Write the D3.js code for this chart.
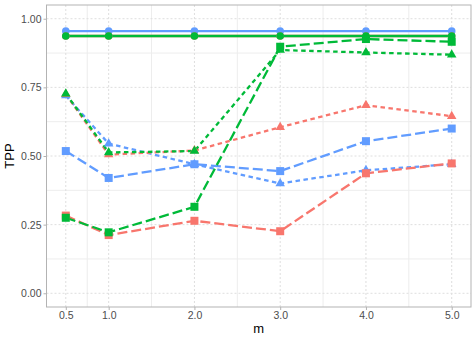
<!DOCTYPE html>
<html>
<head>
<meta charset="utf-8">
<script src="https://cdn.jsdelivr.net/npm/d3@7"></script>
<style>
  body { margin: 0; background: #fff; }
  text { font-family: "Liberation Sans", Arial, sans-serif; }
</style>
</head>
<body>
<script>
// values
var mVals = [0.5, 1.0, 2.0, 3.0, 4.0, 5.0];
var xTicks = [0.5, 1.0, 2.0, 3.0, 4.0, 5.0];
var yTicks = [0, 0.25, 0.5, 0.75, 1.0];

var solidBlue  = [0.955, 0.955, 0.955, 0.955, 0.955, 0.955];
var solidRed   = [0.937, 0.937, 0.937, 0.937, 0.937, 0.937];
var solidGreen = [0.937, 0.937, 0.937, 0.937, 0.937, 0.937];

var dottedBlue  = [0.720, 0.545, 0.470, 0.400, 0.448, 0.470];
var dottedRed   = [0.725, 0.505, 0.520, 0.605, 0.685, 0.645];
var dottedGreen = [0.727, 0.513, 0.518, 0.886, 0.877, 0.869];

var dashedBlue  = [0.518, 0.420, 0.470, 0.445, 0.554, 0.600];
var dashedRed   = [0.283, 0.212, 0.264, 0.226, 0.437, 0.473];
var dashedGreen = [0.275, 0.222, 0.315, 0.898, 0.926, 0.916];

var red = '#F8766D', green = '#00BA38', blue = '#619CFF';

// drawing order: blue, red, green (green ends up on top)
var series = [
  {vals: solidBlue,   col: blue,  type: 'solid'},
  {vals: dottedBlue,  col: blue,  type: 'dotted'},
  {vals: dashedBlue,  col: blue,  type: 'dashed'},
  {vals: solidRed,    col: red,   type: 'solid'},
  {vals: dottedRed,   col: red,   type: 'dotted'},
  {vals: dashedRed,   col: red,   type: 'dashed'},
  {vals: solidGreen,  col: green, type: 'solid'},
  {vals: dottedGreen, col: green, type: 'dotted'},
  {vals: dashedGreen, col: green, type: 'dashed'}
];

var W = 476, H = 340;
var pl = 46.5, pr = 471, pt = 5, pb = 307;

var svg = d3.select('body').append('svg')
  .attr('width', W)
  .attr('height', H);

// ggplot style 5% expansion
var x = d3.scaleLinear().domain([0.5 - 0.225, 5.0 + 0.225]).range([pl, pr]);
var y = d3.scaleLinear().domain([-0.05, 1.05]).range([pb, pt]);

// minor grid (solid)
var xMinor = [0.75, 1.5, 2.5, 3.5, 4.5];
var yMinor = [0.125, 0.375, 0.625, 0.875];
var grid = svg.append('g');
grid.selectAll('.xm').data(xMinor).enter().append('line')
  .attr('x1', function(d){ return x(d); }).attr('x2', function(d){ return x(d); })
  .attr('y1', pt).attr('y2', pb)
  .attr('stroke', '#ededed').attr('stroke-width', 1);
grid.selectAll('.ym').data(yMinor).enter().append('line')
  .attr('y1', function(d){ return y(d); }).attr('y2', function(d){ return y(d); })
  .attr('x1', pl).attr('x2', pr)
  .attr('stroke', '#ededed').attr('stroke-width', 1);
// major grid (dashed)
grid.selectAll('.xM').data(xTicks).enter().append('line')
  .attr('x1', function(d){ return x(d); }).attr('x2', function(d){ return x(d); })
  .attr('y1', pt).attr('y2', pb)
  .attr('stroke', '#dedede').attr('stroke-width', 1).attr('stroke-dasharray', '2,2');
grid.selectAll('.yM').data(yTicks).enter().append('line')
  .attr('y1', function(d){ return y(d); }).attr('y2', function(d){ return y(d); })
  .attr('x1', pl).attr('x2', pr)
  .attr('stroke', '#dedede').attr('stroke-width', 1).attr('stroke-dasharray', '2,2');

// axes
var xAxis = svg.append('g').attr('transform', 'translate(0,' + pb + ')')
  .call(d3.axisBottom(x).tickValues(xTicks).tickFormat(d3.format('.1f')).tickSize(3).tickPadding(2));
var yAxis = svg.append('g').attr('transform', 'translate(' + pl + ',0)')
  .call(d3.axisLeft(y).tickValues(yTicks).tickFormat(d3.format('.2f')).tickSize(3).tickPadding(2));
[xAxis, yAxis].forEach(function(a){
  a.select('.domain').remove();
  a.selectAll('line').attr('stroke', '#b3b3b3');
  a.selectAll('text').attr('fill', '#4d4d4d').style('font-size', '10.5px')
    .style('font-family', '"Liberation Sans", Arial, sans-serif');
});

// panel border
svg.append('rect')
  .attr('x', pl).attr('y', pt).attr('width', pr - pl).attr('height', pb - pt)
  .attr('fill', 'none').attr('stroke', '#b3b3b3').attr('stroke-width', 1);

var dashes = {solid: null, dotted: '4.5,3.5', dashed: '10,4'};
var line = d3.line()
  .x(function(d, i){ return x(mVals[i]); })
  .y(function(d){ return y(d); });

svg.append('g').selectAll('path').data(series).enter().append('path')
  .attr('d', function(s){ return line(s.vals); })
  .attr('fill', 'none')
  .attr('stroke', function(s){ return s.col; })
  .attr('stroke-width', 2.3)
  .attr('stroke-dasharray', function(s){ return dashes[s.type]; });

// points
var tri = function(cx, cy){
  var s = 9.5, h = s * Math.sqrt(3) / 2;
  return 'M' + cx + ',' + (cy - h * 2 / 3) +
    'L' + (cx + s / 2) + ',' + (cy + h / 3) +
    'L' + (cx - s / 2) + ',' + (cy + h / 3) + 'Z';
};
var pts = svg.append('g');
series.forEach(function(s){
  s.vals.forEach(function(v, i){
    var cx = x(mVals[i]), cy = y(v);
    if (s.type === 'solid') {
      pts.append('circle').attr('cx', cx).attr('cy', cy).attr('r', 3.8).attr('fill', s.col);
    } else if (s.type === 'dotted') {
      pts.append('path').attr('d', tri(cx, cy)).attr('fill', s.col);
    } else {
      pts.append('rect').attr('x', cx - 4).attr('y', cy - 4)
        .attr('width', 8).attr('height', 8).attr('fill', s.col);
    }
  });
});

// axis titles
svg.append('text')
  .attr('x', (pl + pr) / 2).attr('y', 333)
  .attr('text-anchor', 'middle')
  .style('font-size', '13px').attr('fill', '#000')
  .text('m');
svg.append('text')
  .attr('transform', 'translate(14,' + ((pt + pb) / 2) + ') rotate(-90)')
  .attr('text-anchor', 'middle')
  .style('font-size', '13px').attr('fill', '#000')
  .text('TPP');
</script>
</body>
</html>
